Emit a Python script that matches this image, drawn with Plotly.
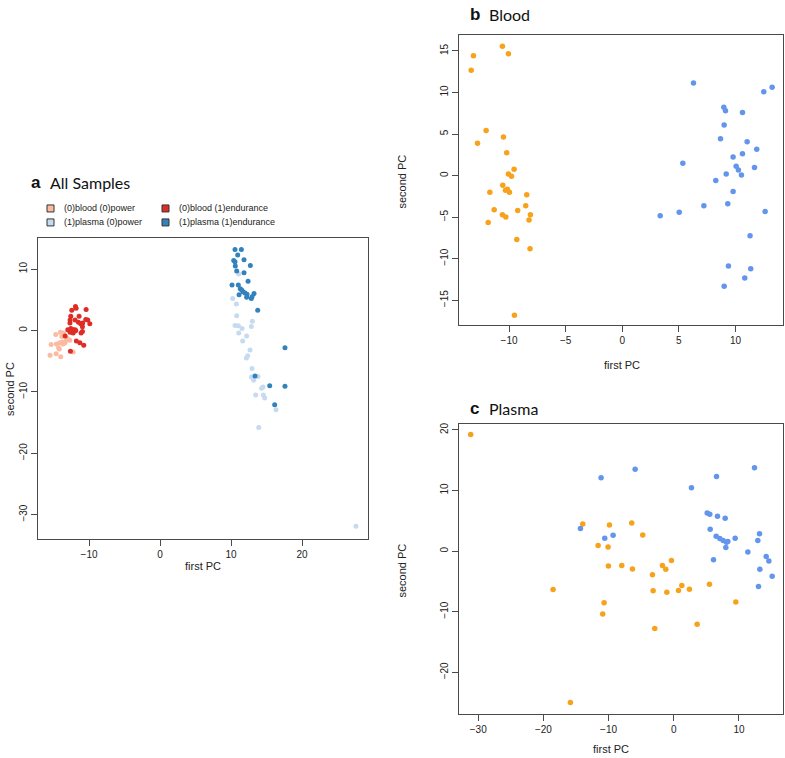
import plotly.graph_objects as go

W, H = 785, 758

# ---------------- Panel a: All Samples ----------------
a_blood_power_x = [-14.7, -14.04, -13.57, -13.85, -13.05, -12.72, -15.35, -14.6, -14.13, -13.76, -13.66, -13.38,
                   -14.3, -14.2, -15.5, -14.65, -14.0, -12.25, -13.2]
a_blood_power_y = [-0.65, -0.3, -0.4, -1.0, -1.3, -1.6, -2.3, -2.2, -2.0, -1.9, -2.2, -2.0,
                   -2.8, -3.0, -4.05, -3.8, -4.3, -3.5, -1.6]
a_blood_end_x = [-11.92, -11.83, -12.44, -10.42, -12.58, -11.41, -12.68, -11.97, -10.47, -10.19,
                 -12.7, -11.5, -11.17, -10.9, -9.9, -10.94, -13.0, -12.58, -12.3, -11.97, -11.88,
                 -12.49, -12.0, -12.68, -12.25, -10.94, -11.13, -13.38, -11.8, -11.3, -10.75, -12.63]
a_blood_end_y = [3.9, 3.6, 3.3, 3.4, 2.3, 2.3, 1.7, 1.7, 1.8, 1.7,
                 1.2, 1.35, 1.1, 1.2, 1.1, 0.6, 0.1, 0.3, 0.16, 0.1, 0.0,
                 -0.1, -0.1, -0.3, -0.4, -0.16, -0.4, -0.9, -1.7, -2.0, -2.4, -3.4]
a_plasma_power_x = [11.08, 10.23, 10.75, 10.8, 10.56, 11.03, 13.0, 12.86, 11.55, 11.08, 12.2, 11.64,
                    12.68, 12.35, 12.16, 12.96, 12.86, 13.19, 13.8, 14.3, 14.5, 13.47, 14.55, 14.74,
                    16.34, 13.9, 27.6]
a_plasma_power_y = [9.2, 5.2, 4.3, 2.4, 0.8, 0.76, 1.5, 0.65, 0.3, -0.4, -0.9, -1.7,
                    -3.2, -4.1, -4.5, -6.2, -7.6, -8.1, -7.5, -9.4, -9.2, -10.5, -10.5, -11.0,
                    -12.9, -15.8, -31.9]
a_plasma_end_x = [10.56, 11.46, 10.94, 10.38, 10.56, 11.83, 10.6, 12.72, 10.8, 11.83, 12.4, 10.14,
                  11.03, 11.3, 11.5, 11.13, 11.69, 11.97, 12.25, 12.2, 12.86, 12.96, 13.24,
                  13.76, 13.38, 15.45, 17.6, 17.6, 16.15]
a_plasma_end_y = [13.2, 13.2, 12.3, 11.4, 11.2, 11.5, 10.5, 10.6, 9.7, 9.4, 8.0, 7.4,
                  7.4, 6.8, 6.6, 5.8, 6.3, 6.1, 5.9, 5.4, 5.2, 5.5, 6.0,
                  3.3, -7.4, -9.0, -2.8, -9.1, -12.1]

a_series = ["(0)blood (0)power", "(0)blood (1)endurance", "(1)plasma (0)power", "(1)plasma (1)endurance"]
a_colors = ["#FCBBA1", "#DE2D26", "#C6DBEF", "#3182BD"]

# ---------------- Panel b: Blood ----------------
b_orange_x = [-13.35, -13.15, -10.59, -10.06, -12.03, -12.79, -10.5, -10.21, -9.56, -10.06, -9.79, -10.56,
              -11.7, -10.32, -10.15, -9.97, -8.44, -8.53, -11.32, -10.59, -10.29, -9.24, -8.12, -8.24,
              -11.85, -9.32, -8.15, -9.53]
b_orange_y = [12.68, 14.44, 15.56, 14.68, 5.44, 3.88, 4.64, 2.76, 0.76, 0.2, -0.08, -1.16,
              -2.0, -1.76, -1.64, -2.0, -2.32, -3.64, -4.12, -4.72, -5.0, -4.2, -4.72, -5.36,
              -5.64, -7.68, -8.8, -16.8]
b_blue_x = [6.29, 12.5, 13.24, 8.97, 9.12, 10.62, 9.0, 8.68, 11.03, 11.88, 9.79, 10.62, 5.35, 10.06,
            10.26, 11.68, 9.18, 10.53, 8.26, 9.79, 3.35, 5.03, 7.21, 9.32, 12.62, 11.29, 9.38, 11.35,
            10.82, 9.0]
b_blue_y = [11.16, 10.08, 10.64, 8.24, 7.8, 7.6, 6.08, 4.44, 4.08, 3.16, 2.24, 2.64, 1.48, 1.12,
            0.68, 0.96, 0.2, 0.08, -0.6, -1.92, -4.84, -4.4, -3.64, -3.4, -4.32, -7.24, -10.88, -11.2,
            -12.32, -13.32]

# ---------------- Panel c: Plasma ----------------
c_orange_x = [-31.15, -13.96, -9.87, -6.45, -4.76, -11.61, -10.08, -10.03, -7.98, -6.34, -1.74, -1.23,
              -0.36, -3.27, -18.52, -3.17, -1.07, 0.72, 1.23, 2.4, 5.47, -10.69, -10.9, 9.51, 3.58,
              -2.92, -15.86]
c_orange_y = [19.23, 4.49, 4.33, 4.66, 2.68, 0.93, 0.66, -2.47, -2.36, -2.96, -2.36, -3.01,
              -1.53, -3.89, -6.34, -6.56, -6.78, -6.5, -5.68, -6.28, -5.46, -8.52, -10.38, -8.4, -12.08,
              -12.79, -25.0]
c_blue_x = [-14.32, -11.15, -5.93, -10.59, -9.31, 2.71, 6.55, 12.38, 5.12, 5.52, 6.7, 7.88, 5.58,
            6.5, 7.06, 7.57, 8.08, 8.29, 7.98, 9.41, 6.09, 11.36, 13.15, 12.89, 14.17, 14.58, 13.2,
            15.09, 12.99]
c_blue_y = [3.73, 12.11, 13.53, 2.14, 2.63, 10.47, 12.33, 13.75, 6.3, 6.08, 5.75, 5.42, 3.62,
            2.47, 2.08, 1.75, 1.48, 1.59, 0.6, 2.14, -1.42, -0.16, 2.85, 1.75, -0.88, -1.64, -3.01,
            -4.16, -5.85]

a_xticks = [-10, 0, 10, 20]
a_yticks = [-30, -20, -10, 0, 10]
b_xticks = [-10, -5, 0, 5, 10]
b_yticks = [-15, -10, -5, 0, 5, 10, 15]
c_xticks = [-30, -20, -10, 0, 10]
c_yticks = [-20, -10, 0, 10, 20]

ORANGE = "#F7A21B"
BLUE = "#6495ED"


def fx(px):
    return px / W


def fy(py):
    return 1 - py / H


fig = go.Figure()

a_data = [(a_blood_power_x, a_blood_power_y), (a_blood_end_x, a_blood_end_y),
          (a_plasma_power_x, a_plasma_power_y), (a_plasma_end_x, a_plasma_end_y)]
for (xs, ys), name, col in zip(a_data, a_series, a_colors):
    fig.add_trace(go.Scatter(x=xs, y=ys, mode="markers", name=name, showlegend=False,
                             marker=dict(color=col, size=5, line=dict(width=0)),
                             xaxis="x", yaxis="y"))

fig.add_trace(go.Scatter(x=b_orange_x, y=b_orange_y, mode="markers", showlegend=False,
                         marker=dict(color=ORANGE, size=5.5, line=dict(width=0)), xaxis="x2", yaxis="y2"))
fig.add_trace(go.Scatter(x=b_blue_x, y=b_blue_y, mode="markers", showlegend=False,
                         marker=dict(color=BLUE, size=5.5, line=dict(width=0)), xaxis="x2", yaxis="y2"))
fig.add_trace(go.Scatter(x=c_orange_x, y=c_orange_y, mode="markers", showlegend=False,
                         marker=dict(color=ORANGE, size=5.5, line=dict(width=0)), xaxis="x3", yaxis="y3"))
fig.add_trace(go.Scatter(x=c_blue_x, y=c_blue_y, mode="markers", showlegend=False,
                         marker=dict(color=BLUE, size=5.5, line=dict(width=0)), xaxis="x3", yaxis="y3"))

axis_common = dict(showline=True, linecolor="#4a4a4a", linewidth=1, mirror=True, showgrid=False,
                   zeroline=False, ticks="outside", ticklen=6, tickcolor="#4a4a4a", tickwidth=1,
                   tickfont=dict(family="Liberation Sans, Arial", size=10, color="#222222"),
                   tickmode="array")

fig.update_layout(
    width=W, height=H, margin=dict(l=0, r=0, t=0, b=0),
    paper_bgcolor="white", plot_bgcolor="white", showlegend=False,
    xaxis=dict(axis_common, domain=[fx(38), fx(368)], range=[-17.2, 29.3], tickvals=a_xticks, anchor="y"),
    yaxis=dict(axis_common, domain=[fy(538), fy(237)], range=[-33.9, 15.0], tickvals=a_yticks,
               tickangle=-90, anchor="x"),
    xaxis2=dict(axis_common, domain=[fx(459.3), fx(783)], range=[-14.4, 14.2], tickvals=b_xticks, anchor="y2"),
    yaxis2=dict(axis_common, domain=[fy(324.3), fy(33.3)], range=[-18.04, 16.9], tickvals=b_yticks,
                tickangle=-90, anchor="x2"),
    xaxis3=dict(axis_common, domain=[fx(459.3), fx(783)], range=[-32.9, 16.75], tickvals=c_xticks, anchor="y3"),
    yaxis3=dict(axis_common, domain=[fy(714), fy(423.3)], range=[-26.9, 20.95], tickvals=c_yticks,
                tickangle=-90, anchor="x3"),
)

ann = []
lab_font = dict(family="Liberation Sans, Arial", size=11, color="#222222")
# axis titles
for (x, y, t, ang) in [(203, 565, "first PC", 0), (10, 388, "second PC", -90),
                       (622, 364, "first PC", 0), (402, 180, "second PC", -90),
                       (611, 749, "first PC", 0), (402, 570, "second PC", -90)]:
    ann.append(dict(x=fx(x), y=fy(y), xref="paper", yref="paper", text=t, showarrow=False,
                    textangle=ang, font=lab_font, xanchor="center", yanchor="middle"))

# panel titles
for (x, y, letter, title) in [(29, 181, "a", "All Samples"), (468, 13, "b", "Blood"), (468, 408, "c", "Plasma")]:
    ann.append(dict(x=fx(x), y=fy(y), xref="paper", yref="paper", text="<b>" + letter + "</b>",
                    showarrow=False, xanchor="left", yanchor="middle",
                    font=dict(family="Liberation Sans, Arial", size=17, color="#111111")))
    ann.append(dict(x=fx(x + 19), y=fy(y), xref="paper", yref="paper", text=title,
                    showarrow=False, xanchor="left", yanchor="middle",
                    font=dict(family="Lato, Open Sans", size=16, color="#111111")))

# legend for panel a
shapes = []
leg_pos = [(47, 207), (162, 207), (47, 221), (162, 221)]
leg_order = [0, 1, 2, 3]
for (lx, ly), i in zip(leg_pos, leg_order):
    shapes.append(dict(type="rect", xref="paper", yref="paper",
                       x0=fx(lx), x1=fx(lx + 7), y0=fy(ly + 3.5), y1=fy(ly - 3.5),
                       fillcolor=a_colors[i], line=dict(color="#333333", width=1)))
    ann.append(dict(x=fx(lx + 15), y=fy(ly), xref="paper", yref="paper", text=a_series[i],
                    showarrow=False, xanchor="left", yanchor="middle",
                    font=dict(family="Liberation Sans, Arial", size=9, color="#222222")))

fig.update_layout(annotations=ann, shapes=shapes)
fig.write_html("out.html", config={"displayModeBar": False},
               post_script="document.body.style.margin='0px';document.body.style.overflow='hidden';")
